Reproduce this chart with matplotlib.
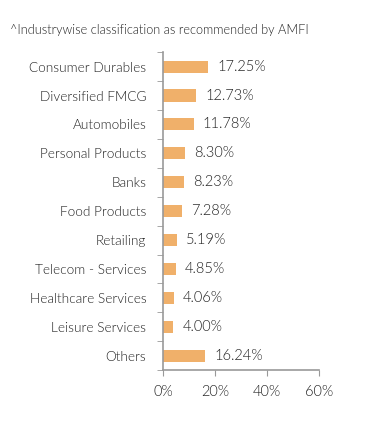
import matplotlib.pyplot as plt
from matplotlib.ticker import FixedLocator

categories = ["Consumer Durables", "Diversified FMCG", "Automobiles", "Personal Products",
              "Banks", "Food Products", "Retailing", "Telecom - Services",
              "Healthcare Services", "Leisure Services", "Others"]
values = [17.25, 12.73, 11.78, 8.30, 8.23, 7.28, 5.19, 4.85, 4.06, 4.00, 16.24]
xticks = [0, 20, 40, 60]

plt.rcParams["font.family"] = ["Lato", "DejaVu Sans"]
fig = plt.figure(figsize=(3.91, 4.24), dpi=100)
ax = fig.add_axes([0.417, 0.127, 0.399, 0.75])

txt = "#222222"
pos = list(range(len(categories)))
ax.barh(pos, values, height=0.42, color="#F0B06A")
for p, v in zip(pos, values):
    ax.text(v + 3.5, p, f"{v:.2f}%", va="center", ha="left", fontsize=10.5,
            color=txt, fontweight=300)

ax.set_ylim(len(categories) - 0.5, -0.5)
ax.set_xlim(0, 60)
ax.set_yticks(pos)
ax.set_yticklabels(categories, fontsize=9.8, color=txt, fontweight=300)
ax.tick_params(axis="y", which="major", length=0, pad=12)
ax.yaxis.set_minor_locator(FixedLocator([p + 0.5 for p in pos] + [-0.5]))
ax.tick_params(axis="y", which="minor", length=4, color="#999999")
ax.set_xticks(xticks)
ax.set_xticklabels([f"{t}%" for t in xticks], fontsize=10.5, color=txt,
                   fontweight=300)
ax.tick_params(axis="x", length=4, color="#999999", pad=7)
for s in ["top", "right"]:
    ax.spines[s].set_visible(False)
for s in ["left", "bottom"]:
    ax.spines[s].set_color("#999999")
    ax.spines[s].set_linewidth(1.2)

fig.text(0.026, 0.93, "^Industrywise classification as recommended by AMFI",
         fontsize=9.2, color=txt, va="center", fontweight=300)

fig.savefig("out.png", dpi=100)
